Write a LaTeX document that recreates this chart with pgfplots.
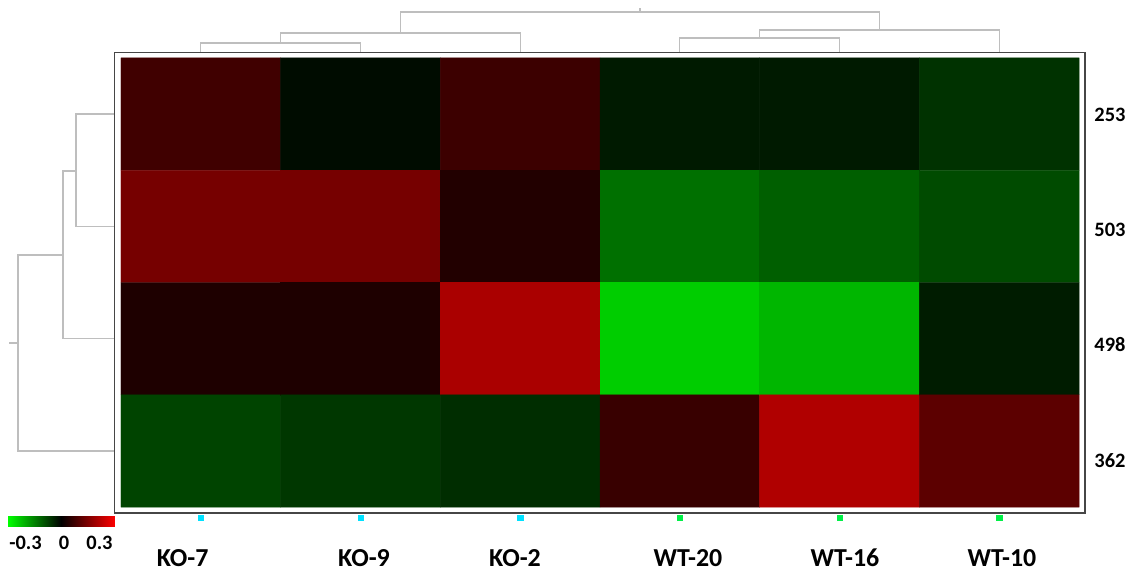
\documentclass[border=0pt]{standalone}
\usepackage{pgfplots}
\pgfplotsset{compat=1.18}
\usepackage{fontspec}
\setmainfont{Carlito}
\definecolor{dendro}{RGB}{190,190,190}
\definecolor{frame}{RGB}{70,70,70}
\definecolor{kodot}{RGB}{0,225,255}
\definecolor{wtdot}{RGB}{0,240,70}
\begin{document}
\begin{tikzpicture}
\begin{axis}[
  width=1134bp, height=571bp, scale only axis,
  xmin=0, xmax=1134, ymin=0, ymax=571, y dir=reverse,
  hide axis, clip=false,
  colormap={rg}{rgb255(0cm)=(0,255,0); rgb255(1cm)=(0,0,0); rgb255(2cm)=(255,0,0)},
  point meta min=-0.3, point meta max=0.3,
]
% fix the picture's extent to the full axis area
\path (rel axis cs:0,0) rectangle (rel axis cs:1,1);
% heatmap: x = column centre, y = row centre, v = value
\addplot[matrix plot*, mesh/cols=6, point meta=explicit] table[meta=v] {
x y v
200.8 114.1 0.075
360.5 114.1 -0.014
520.2 114.1 0.071
679.8 114.1 -0.031
839.5 114.1 -0.031
999.2 114.1 -0.059
200.8 226.4 0.139
360.5 226.4 0.139
520.2 226.4 0.040
679.8 226.4 -0.132
839.5 226.4 -0.112
999.2 226.4 -0.088
200.8 338.6 0.035
360.5 338.6 0.035
520.2 338.6 0.200
679.8 338.6 -0.241
839.5 338.6 -0.214
999.2 338.6 -0.033
200.8 450.9 -0.080
360.5 450.9 -0.065
520.2 450.9 -0.053
679.8 450.9 0.066
839.5 450.9 0.207
999.2 450.9 0.108
};
% frame
\addplot[draw=frame, line width=1.5bp] coordinates {(114.5,52.5) (1085,52.5) (1085,513) (114.5,513) (114.5,52.5)};
% top dendrogram
\addplot[draw=dendro, line width=1.3bp] coordinates {(200.8,52) (200.8,43) (360.5,43) (360.5,52)};
\addplot[draw=dendro, line width=1.3bp] coordinates {(280.6,43) (280.6,33) (520.2,33) (520.2,52)};
\addplot[draw=dendro, line width=1.3bp] coordinates {(679.8,52) (679.8,38) (839.5,38) (839.5,52)};
\addplot[draw=dendro, line width=1.3bp] coordinates {(759.6,38) (759.6,30) (999.2,30) (999.2,52)};
\addplot[draw=dendro, line width=1.3bp] coordinates {(400.4,33) (400.4,12) (879.4,12) (879.4,30)};
\addplot[draw=dendro, line width=1.3bp] coordinates {(639.9,12) (639.9,8)};
% left dendrogram
\addplot[draw=dendro, line width=1.3bp] coordinates {(114,114.1) (76,114.1) (76,226.4) (114,226.4)};
\addplot[draw=dendro, line width=1.3bp] coordinates {(76,171) (63,171) (63,338.6) (114,338.6)};
\addplot[draw=dendro, line width=1.3bp] coordinates {(63,255) (18,255) (18,450.9) (114,450.9)};
\addplot[draw=dendro, line width=1.3bp] coordinates {(18,343) (9,343)};
% colour scale
\addplot[surf, shader=interp, mesh/cols=3, point meta=explicit] coordinates {
(8,516) [-0.3] (61.5,516) [0] (115,516) [0.3]
(8,526) [-0.3] (61.5,526) [0] (115,526) [0.3]
};
% group dots
\addplot[only marks, mark=square*, mark size=2.6bp, color=kodot] coordinates {(200.8,518) (360.5,518) (520.2,518)};
\addplot[only marks, mark=square*, mark size=2.6bp, color=wtdot] coordinates {(679.8,518) (839.5,518) (999.2,518)};
% labels
\begin{scope}[every node/.style={font=\fontsize{20.5}{21}\selectfont\bfseries, inner sep=0pt}]
\node at (axis cs:1110,115) {253};
\node at (axis cs:1110,230) {503};
\node at (axis cs:1110,345) {498};
\node at (axis cs:1110,461) {362};
\node at (axis cs:25.5,543) {-0.3};
\node at (axis cs:64,543) {0};
\node at (axis cs:99.5,543) {0.3};
\end{scope}
\begin{scope}[every node/.style={font=\fontsize{26}{27}\selectfont\bfseries, inner sep=0pt}]
\node at (axis cs:182.6,558) {KO-7};
\node at (axis cs:364,558) {KO-9};
\node at (axis cs:515,558) {KO-2};
\node at (axis cs:688,558) {WT-20};
\node at (axis cs:845,558) {WT-16};
\node at (axis cs:1002,558) {WT-10};
\end{scope}
\end{axis}
\end{tikzpicture}
\end{document}
